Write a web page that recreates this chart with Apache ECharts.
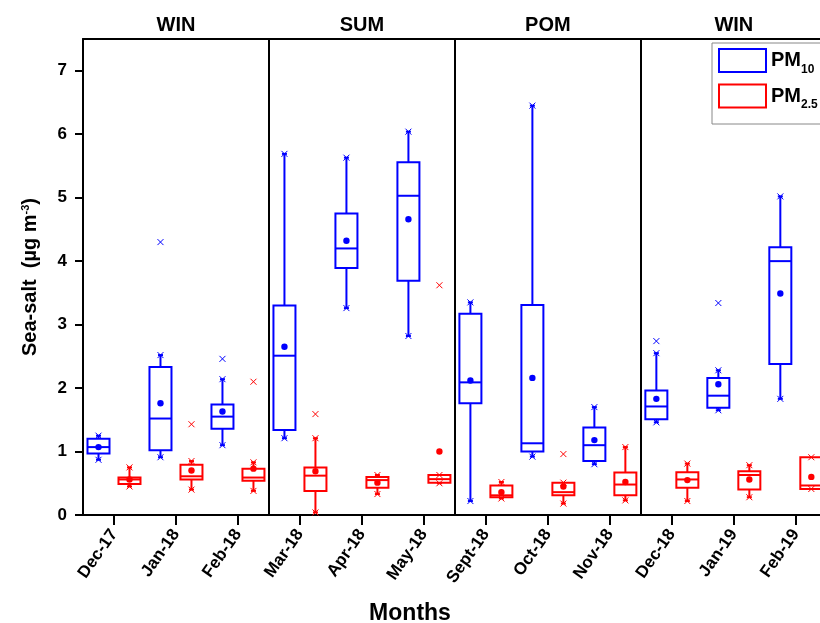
<!DOCTYPE html>
<html><head><meta charset="utf-8">
<script src="https://cdn.jsdelivr.net/npm/echarts@6/dist/echarts.min.js"></script>
<style>html,body{margin:0;padding:0;background:#fff}#c{width:820px;height:623px}</style>
</head><body><div id="c"></div>
<script>
const months = ['Dec-17','Jan-18','Feb-18','Mar-18','Apr-18','May-18','Sept-18','Oct-18','Nov-18','Dec-18','Jan-19','Feb-19'];
const seasons = ['WIN','SUM','POM','WIN'];
const seasonCenters = [1,4,7,10];
const seasonBreaks = [2.5,5.5,8.5];
const yTicks = [0,1,2,3,4,5,6,7];

// PM10: [min, q1, median, q3, max, mean]
const pm10 = [
  [0.87,0.97,1.07,1.20,1.25,1.07],
  [0.91,1.02,1.52,2.33,2.52,1.76],
  [1.10,1.36,1.55,1.74,2.14,1.63],
  [1.21,1.34,2.51,3.30,5.69,2.65],
  [3.26,3.89,4.20,4.75,5.63,4.32],
  [2.82,3.69,5.03,5.56,6.04,4.66],
  [0.22,1.76,2.09,3.17,3.35,2.12],
  [0.92,1.00,1.13,3.31,6.45,2.16],
  [0.80,0.85,1.10,1.38,1.70,1.18],
  [1.46,1.51,1.71,1.96,2.55,1.83],
  [1.65,1.69,1.88,2.16,2.28,2.06],
  [1.83,2.38,4.00,4.22,5.02,3.49]
];
// PM2.5: [min, q1, median, q3, max, mean]
const pm25 = [
  [0.45,0.49,0.56,0.59,0.75,0.56],
  [0.40,0.56,0.61,0.79,0.85,0.70],
  [0.38,0.54,0.59,0.73,0.83,0.73],
  [0.04,0.38,0.62,0.75,1.21,0.69],
  [0.33,0.43,0.55,0.60,0.63,0.51],
  [0.50,0.51,0.565,0.63,0.63,1.00],
  [0.26,0.28,0.31,0.465,0.52,0.36],
  [0.18,0.31,0.36,0.51,0.51,0.45],
  [0.23,0.31,0.48,0.67,1.07,0.52],
  [0.22,0.43,0.56,0.675,0.81,0.55],
  [0.28,0.40,0.63,0.69,0.785,0.56],
  [0.41,0.41,0.465,0.91,0.91,0.60]
];
// outliers: [month index, value]
const out10 = [[1,4.30],[2,2.46],[9,2.74],[10,3.34]];
const out25 = [[1,1.43],[2,2.10],[3,1.59],[5,3.62],[7,0.96]];

const BLUE = '#0000ff', RED = '#ff0000';
const FONT = 'Liberation Sans, Arial, sans-serif';
const OFF = 0.25;
const X_MIN = -0.5, X_MAX = 11.39; // right part of the last panel is cut off in the original

function boxData(arr, off) { return arr.map((r, i) => [i + off].concat(r)); }
function outData(arr, off) { return arr.map(r => [r[0] + off, r[1]]); }

function xMark(p, s, color) {
  return [
    {type:'line', shape:{x1:p[0]-s,y1:p[1]-s,x2:p[0]+s,y2:p[1]+s}, style:{stroke:color,lineWidth:1}},
    {type:'line', shape:{x1:p[0]-s,y1:p[1]+s,x2:p[0]+s,y2:p[1]-s}, style:{stroke:color,lineWidth:1}}
  ];
}

function makeRender(color) {
  return function (params, api) {
    const x = api.value(0);
    const pMin = api.coord([x, api.value(1)]);
    const pQ1 = api.coord([x, api.value(2)]);
    const pMed = api.coord([x, api.value(3)]);
    const pQ3 = api.coord([x, api.value(4)]);
    const pMax = api.coord([x, api.value(5)]);
    const pMean = api.coord([x, api.value(6)]);
    const bw = api.size([1, 0])[0] * 0.355;
    const cx = pMed[0];
    const st = {stroke: color, lineWidth: 2, fill: null};
    const ch = [];
    ch.push({type:'rect', shape:{x: cx - bw/2, y: pQ3[1], width: bw, height: pQ1[1] - pQ3[1]}, style:{stroke:color, lineWidth:2, fill:'none'}});
    ch.push({type:'line', shape:{x1: cx - bw/2, y1: pMed[1], x2: cx + bw/2, y2: pMed[1]}, style: st});
    if (pMin[1] - pQ1[1] > 0.5) {
      ch.push({type:'line', shape:{x1: cx, y1: pQ1[1], x2: cx, y2: pMin[1]}, style: st});
      ch.push({type:'line', shape:{x1: cx - 2.5, y1: pMin[1], x2: cx + 2.5, y2: pMin[1]}, style: st});
    }
    if (pQ3[1] - pMax[1] > 0.5) {
      ch.push({type:'line', shape:{x1: cx, y1: pQ3[1], x2: cx, y2: pMax[1]}, style: st});
      ch.push({type:'line', shape:{x1: cx - 2.5, y1: pMax[1], x2: cx + 2.5, y2: pMax[1]}, style: st});
    }
    xMark(pMin, 3, color).forEach(e => ch.push(e));
    xMark(pMax, 3, color).forEach(e => ch.push(e));
    ch.push({type:'circle', shape:{cx: cx, cy: pMean[1], r: 3.2}, style:{fill: color}});
    return {type:'group', children: ch};
  };
}
function makeOutRender(color) {
  return function (params, api) {
    const p = api.coord([api.value(0), api.value(1)]);
    return {type:'group', children: xMark(p, 3, color)};
  };
}

const chart = echarts.init(document.getElementById('c'), null, {renderer:'canvas'});
chart.setOption({
  animation: false,
  backgroundColor: '#fff',
  title: {text: 'Months', left: 'center', top: 597,
    textStyle: {fontFamily: 'Liberation Sans Narrow, ' + FONT, fontWeight: 'bold', fontSize: 23, color: '#000'}},
  grid: {left: 83, top: 39, right: 0, bottom: 108, show: false},
  legend: {
    data: [
      {name: 'PM10', itemStyle: {color: 'rgba(0,0,0,0)', borderColor: BLUE, borderWidth: 2}},
      {name: 'PM2.5', itemStyle: {color: 'rgba(0,0,0,0)', borderColor: RED, borderWidth: 2}}
    ],
    orient: 'vertical', left: 712, top: 43, icon: 'rect',
    itemWidth: 47, itemHeight: 23, itemGap: 8,
    borderColor: '#888', borderWidth: 1, padding: [5, 50, 13, 6],
    formatter: n => n === 'PM10' ? '{m|PM}{s|10}' : '{m|PM}{s|2.5}',
    textStyle: {rich: {
      m: {fontFamily: FONT, fontWeight: 'bold', fontSize: 20, color: '#000'},
      s: {fontFamily: FONT, fontWeight: 'bold', fontSize: 12, color: '#000', verticalAlign: 'bottom', padding: [18, 0, 0, 0]}
    }}
  },
  xAxis: [
    {
      type: 'value', min: X_MIN, max: X_MAX, position: 'bottom',
      axisLine: {show: true, onZero: false, lineStyle: {color: '#000', width: 2}},
      axisTick: {show: true, customValues: months.map((m, i) => i), length: 10, lineStyle: {color: '#000', width: 2}},
      axisLabel: {show: true, customValues: months.map((m, i) => i), rotate: 55, margin: 16,
        formatter: v => months[Math.round(v)] || '',
        fontFamily: FONT, fontWeight: 'bold', fontSize: 17, color: '#000'},
      splitLine: {show: false}
    },
    {
      type: 'value', min: X_MIN, max: X_MAX, position: 'top',
      axisLine: {show: true, onZero: false, lineStyle: {color: '#000', width: 2}},
      axisTick: {show: false}, splitLine: {show: false},
      axisLabel: {show: true, customValues: seasonCenters, margin: 4,
        formatter: v => seasons[seasonCenters.indexOf(Math.round(v))] || '',
        fontFamily: FONT, fontWeight: 'bold', fontSize: 20, color: '#000'}
    }
  ],
  yAxis: {
    type: 'value', min: 0, max: 7.5, interval: 1,
    name: '{a|Sea-salt  (µg m}{sup|-3}{a|)}', nameLocation: 'middle', nameGap: 42,
    nameTextStyle: {rich: {
      a: {fontFamily: FONT, fontWeight: 'bold', fontSize: 20, color: '#000'},
      sup: {fontFamily: FONT, fontWeight: 'bold', fontSize: 11, color: '#000', verticalAlign: 'top', padding: [0, 0, 10, 0]}
    }},
    axisLine: {show: true, onZero: false, lineStyle: {color: '#000', width: 2}},
    axisTick: {show: true, customValues: yTicks, length: 8, lineStyle: {color: '#000', width: 2}},
    axisLabel: {customValues: yTicks, margin: 16, fontFamily: FONT, fontWeight: 'bold', fontSize: 17, color: '#000'},
    splitLine: {show: false}
  },
  series: [
    {
      name: 'PM10', type: 'custom', xAxisIndex: 0, renderItem: makeRender(BLUE),
      itemStyle: {color: BLUE}, encode: {x: 0, y: [1, 2, 3, 4, 5, 6]},
      data: boxData(pm10, -OFF),
      markLine: {silent: true, symbol: 'none', label: {show: false},
        lineStyle: {color: '#000', width: 2, type: 'solid'},
        data: seasonBreaks.map(b => ({xAxis: b}))}
    },
    {
      name: 'PM2.5', type: 'custom', xAxisIndex: 0, renderItem: makeRender(RED),
      itemStyle: {color: RED}, encode: {x: 0, y: [1, 2, 3, 4, 5, 6]},
      data: boxData(pm25, OFF)
    },
    {
      name: 'out10', type: 'custom', renderItem: makeOutRender(BLUE), encode: {x: 0, y: 1},
      data: outData(out10, -OFF)
    },
    {
      name: 'out25', type: 'custom', renderItem: makeOutRender(RED), encode: {x: 0, y: 1},
      data: outData(out25, OFF)
    }
  ]
});
</script></body></html>
